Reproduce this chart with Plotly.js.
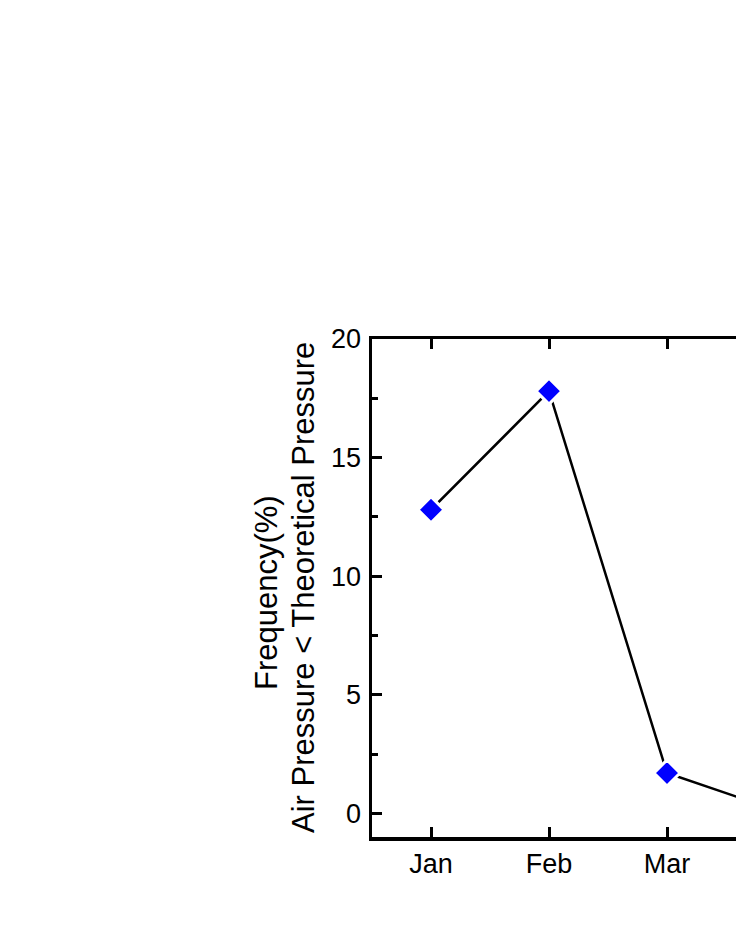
<!DOCTYPE html>
<html>
<head>
<meta charset="utf-8">
<script src="https://cdn.plot.ly/plotly-3.0.1.min.js"></script>
<style>
  html, body { margin: 0; padding: 0; background: white; overflow: hidden; width: 736px; height: 952px; }
</style>
</head>
<body>
<div id="myDiv"></div>
<script>
// months visible in the crop (Apr point lies just past the right edge)
const months = ["Jan", "Feb", "Mar", "Apr"];
// Frequency (%) of air pressure below theoretical pressure
const frequency = [12.8, 17.8, 1.7, 0.0];
// only these labels fall inside the picture
const xTickLabels = ["Jan", "Feb", "Mar"];
const yTicks = [0, 5, 10, 15, 20];
const yMinorTicks = [2.5, 7.5, 12.5, 17.5];
const titleLines = ["Frequency(%)", "Air Pressure < Theoretical Pressure"];

const font = "Liberation Sans, Arial, sans-serif";

// plot area in pixels
const plotLeft = 372, plotWidth = 828;
const px = (p) => (p - plotLeft) / plotWidth;

let data = [
    {
        type: "scatter",
        mode: "lines+markers",
        x: months,
        y: frequency,
        line: { color: "black", width: 2.5 },
        marker: {
            symbol: "diamond",
            size: 20,
            color: "#0000ff",
            line: { color: "white", width: 3 },
        },
        cliponaxis: false,
        showlegend: false,
    },
];

let layout = {
    width: plotLeft + plotWidth,
    height: 952,
    margin: { l: plotLeft, r: 0, t: 339, b: 115 },
    paper_bgcolor: "white",
    plot_bgcolor: "white",
    font: { family: font, size: 27, color: "black" },
    xaxis: {
        type: "category",
        categoryarray: months,
        range: [-0.5, 6.517],
        tickvals: xTickLabels,
        showgrid: false,
        zeroline: false,
        showline: true,
        linecolor: "black",
        linewidth: 3.5,
        mirror: "ticks",
        ticks: "inside",
        ticklen: 10,
        tickwidth: 3,
        tickcolor: "black",
        tickfont: { family: font, size: 27 },
    },
    yaxis: {
        range: [-1, 20],
        tickvals: yTicks,
        showgrid: false,
        zeroline: false,
        showline: true,
        linecolor: "black",
        linewidth: 3.5,
        mirror: "ticks",
        ticks: "inside",
        ticklen: 10,
        tickwidth: 3,
        tickcolor: "black",
        ticklabelstandoff: 2,
        minor: { tickvals: yMinorTicks, ticks: "inside", ticklen: 6, tickwidth: 3, tickcolor: "black" },
        tickfont: { family: font, size: 27 },
    },
    annotations: [
        {
            text: titleLines[0],
            xref: "paper", yref: "paper",
            x: px(267), y: 0.49,
            xanchor: "center", yanchor: "middle",
            textangle: -90, showarrow: false,
            font: { family: font, size: 31 },
        },
        {
            text: titleLines[1],
            xref: "paper", yref: "paper",
            x: px(303), y: 0.5,
            xanchor: "center", yanchor: "middle",
            textangle: -90, showarrow: false,
            font: { family: font, size: 31 },
        },
    ],
};

Plotly.newPlot("myDiv", data, layout, { displayModeBar: false, staticPlot: true });
</script>
</body>
</html>
